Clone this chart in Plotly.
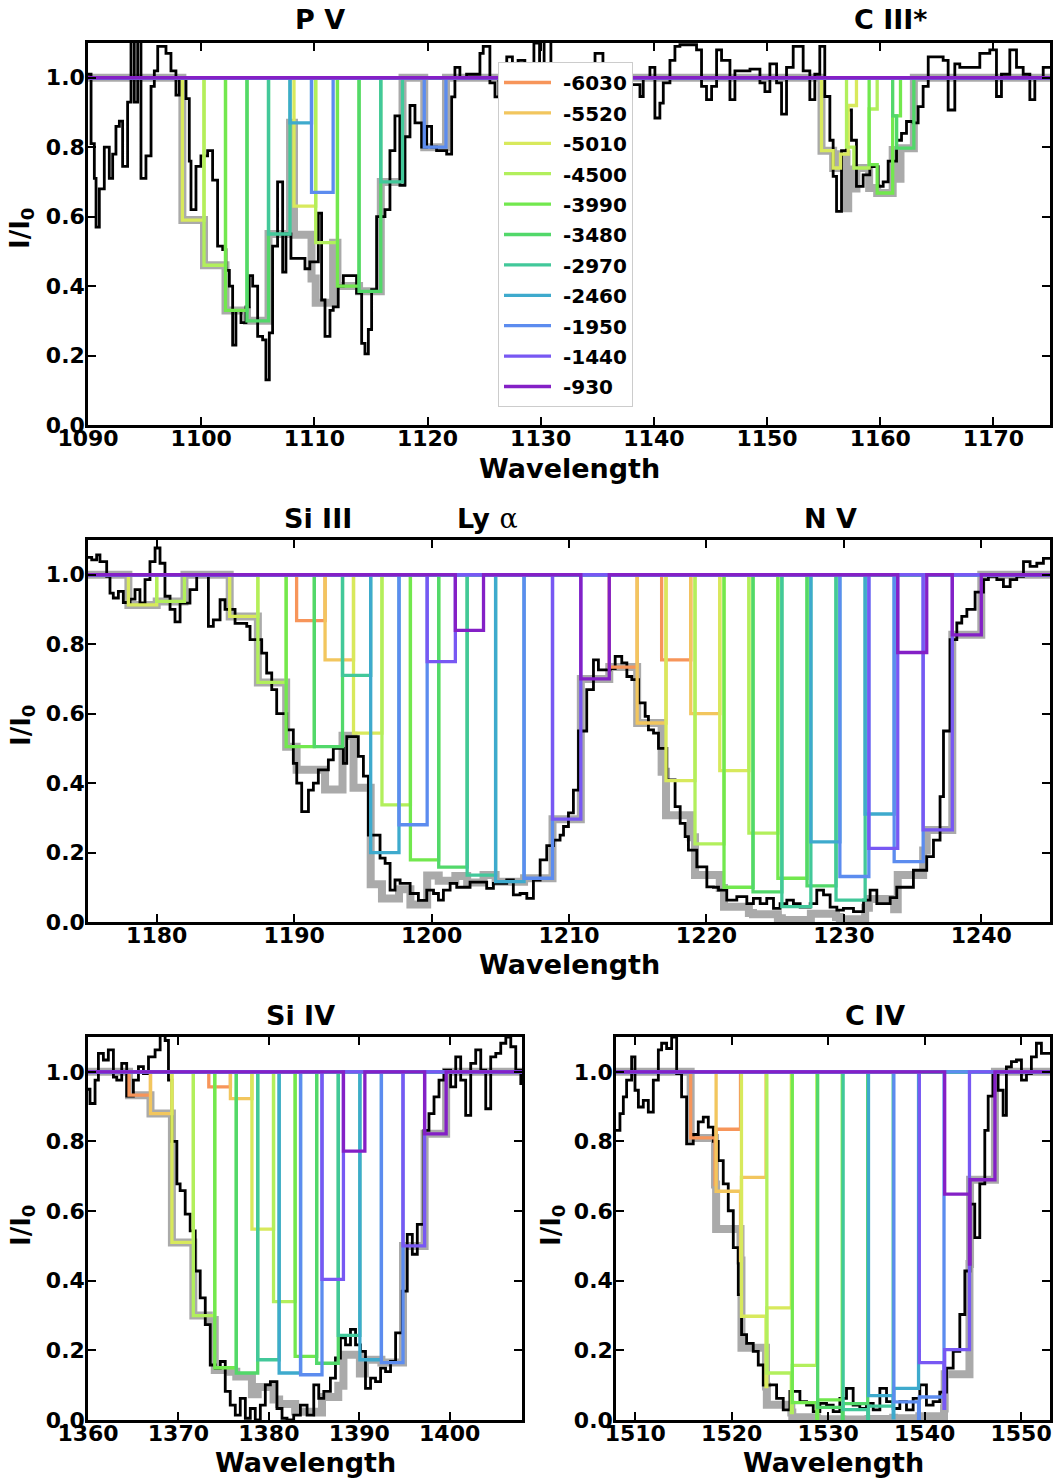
import plotly.graph_objects as go

# ---------------- data ----------------
VELOCITIES = [-6030, -5520, -5010, -4500, -3990, -3480, -2970, -2460, -1950, -1440, -930]
COMP_COLORS = ['#f7955a', '#f2c65e', '#d8e95c', '#b2ef5c', '#72e84e', '#52d86a',
               '#42c89a', '#3eaacd', '#5c8cef', '#7858f3', '#8420c6']

# P V doublet: bin edges of each velocity component and its transmission
PV1_EDGES = [1094.54, 1096.44, 1098.34, 1100.25, 1102.15, 1104.05, 1105.95, 1107.85, 1109.75, 1111.66, 1113.56, 1115.46]
PV1_DEPTH = [1, 1, 0.59, 0.46, 0.33, 0.30, 0.55, 0.87, 0.67, 1, 1]
PV2_EDGES = [1104.36, 1106.28, 1108.20, 1110.12, 1112.04, 1113.95, 1115.87, 1117.79, 1119.71, 1121.63, 1123.55, 1125.47]
PV2_DEPTH = [1, 1, 0.63, 0.525, 0.40, 0.385, 0.70, 1, 0.80, 1, 1]

# C III* multiplet: step profiles of the components that show it
CIII_5010_EDGES = [1154.81, 1155.84, 1156.49, 1157.17, 1157.90]
CIII_5010_LEVELS = [0.79, 0.74, 0.78, 0.92]
CIII_4500_EDGES = [1157.02, 1157.67, 1159.02, 1159.73]
CIII_4500_LEVELS = [0.80, 0.74, 0.91]
CIII_3990_EDGES = [1159.02, 1159.73, 1161.10, 1161.79]
CIII_3990_LEVELS = [0.75, 0.668, 0.89]
CIII_3480_EDGES = [1161.10, 1161.45, 1162.97]
CIII_3480_LEVELS = [0.89, 0.797]

# middle panel: Si III, Ly alpha, N V doublet, and a weak feature near 1178-1182
X1199_EDGES = [1177.94, 1180.00, 1182.02]
X1199_LEVELS = [0.913, 0.923]
SI3_EDGES = [1181.21, 1183.26, 1185.31, 1187.36, 1189.42, 1191.47, 1193.52, 1195.57, 1197.63, 1199.68, 1201.73, 1203.78]
SI3_DEPTH = [1, 1, 0.88, 0.69, 0.505, 0.505, 0.71, 0.20, 0.28, 0.75, 0.84]
LYA_EDGES = [1190.18, 1192.25, 1194.32, 1196.39, 1198.46, 1200.52, 1202.59, 1204.66, 1206.73, 1208.80, 1210.86, 1212.93]
LYA_DEPTH = [0.868, 0.755, 0.544, 0.337, 0.179, 0.158, 0.135, 0.116, 0.126, 0.296, 0.70]
NV1_EDGES = [1212.93, 1214.96, 1217.06, 1219.17, 1221.28, 1223.39, 1225.49, 1227.60, 1229.71, 1231.82, 1233.92, 1236.03]
NV1_DEPTH = [0.734, 0.573, 0.407, 0.225, 0.10, 0.087, 0.044, 0.231, 0.131, 0.212, 0.776]
NV2_EDGES = [1216.74, 1218.86, 1220.97, 1223.09, 1225.20, 1227.32, 1229.43, 1231.55, 1233.66, 1235.77, 1237.89, 1240.00]
NV2_DEPTH = [0.755, 0.60, 0.436, 0.256, 0.126, 0.104, 0.063, 0.311, 0.174, 0.265, 0.827]

# Si IV doublet
SI4A_EDGES = [1364.54, 1366.91, 1369.28, 1371.65, 1374.02, 1376.40, 1378.77, 1381.14, 1383.51, 1385.88, 1388.25, 1390.62]
SI4A_DEPTH = [0.933, 0.88, 0.51, 0.30, 0.15, 0.135, 0.173, 0.135, 0.13, 0.404, 0.772]
SI4B_EDGES = [1373.36, 1375.75, 1378.13, 1380.52, 1382.91, 1385.29, 1387.68, 1390.07, 1392.45, 1394.84, 1397.23, 1399.61]
SI4B_DEPTH = [0.957, 0.923, 0.548, 0.34, 0.183, 0.163, 0.243, 0.173, 0.165, 0.50, 0.822]

# C IV doublet
C4A_EDGES = [1515.74, 1518.38, 1521.01, 1523.64, 1526.28, 1528.91, 1531.55, 1534.18, 1536.81, 1539.45, 1542.08, 1544.71]
C4A_DEPTH = [0.81, 0.657, 0.298, 0.135, 0.05, 0.036, 0.03, 0.07, 0.052, 0.165, 0.649]
C4B_EDGES = [1518.27, 1520.91, 1523.55, 1526.18, 1528.82, 1531.46, 1534.10, 1536.74, 1539.37, 1542.01, 1544.65, 1547.29]
C4B_DEPTH = [0.835, 0.697, 0.322, 0.157, 0.058, 0.047, 0.04, 0.091, 0.066, 0.202, 0.69]

# observed normalised spectra (bin start wavelength, flux)
TOP_WAVE = [1090.0, 1090.27, 1090.56, 1090.71, 1091.0, 1091.44, 1091.88, 1092.18, 1092.47, 1092.77, 1093.06, 1093.5,
            1093.8, 1094.09, 1094.39, 1094.68, 1095.12, 1095.57, 1095.86, 1096.16, 1096.89, 1097.33, 1097.77, 1098.07,
            1098.66, 1098.95, 1099.1, 1099.54, 1099.98, 1100.57, 1101.01, 1101.45, 1101.9, 1102.19, 1102.49, 1102.78,
            1103.07, 1103.52, 1103.96, 1104.25, 1104.55, 1104.99, 1105.43, 1105.72, 1106.02, 1106.31, 1106.75, 1107.2,
            1107.49, 1107.93, 1108.73, 1109.17, 1109.6, 1110.35, 1110.64, 1110.94, 1111.38, 1111.67, 1112.11, 1112.56,
            1113.73, 1114.18, 1114.47, 1114.77, 1115.06, 1115.5, 1116.24, 1116.68, 1117.12, 1117.56, 1118.0, 1118.45,
            1118.89, 1119.48, 1119.92, 1120.36, 1120.8, 1121.69, 1122.13, 1122.42, 1122.86, 1123.45, 1124.63, 1124.92,
            1125.51, 1125.96, 1126.3, 1127.0, 1127.5, 1128.0, 1128.6, 1129.4, 1129.9, 1130.3, 1130.9, 1131.6, 1132.5,
            1133.3, 1134.0, 1134.8, 1135.5, 1136.4, 1137.2, 1138.0, 1138.77, 1139.06, 1139.65, 1140.09, 1140.53, 1140.83,
            1141.42, 1141.86, 1142.3, 1143.77, 1144.21, 1144.65, 1145.1, 1145.54, 1145.98, 1146.72, 1147.16, 1148.49,
            1149.37, 1149.81, 1150.25, 1150.84, 1151.28, 1151.72, 1152.31, 1153.19, 1153.78, 1154.22, 1154.66, 1155.1,
            1155.55, 1155.84, 1156.14, 1156.58, 1157.02, 1157.46, 1157.9, 1158.49, 1159.08, 1159.82, 1160.26, 1160.7,
            1161.44, 1161.88, 1162.32, 1162.91, 1163.35, 1163.79, 1164.24, 1165.56, 1166.0, 1166.59, 1167.03, 1168.8,
            1169.68, 1170.27, 1170.71, 1171.45, 1172.04, 1172.63, 1173.22, 1173.66, 1174.4, 1175.0]
TOP_FLUX = [1.01, 0.81, 0.71, 0.57, 0.68, 0.80, 0.71, 0.78, 0.86, 0.875, 0.745, 0.93,
            1.15, 0.93, 1.15, 0.71, 0.775, 0.975, 1.02, 1.09, 1.07, 1.02, 0.95, 1.0,
            0.94, 0.76, 0.62, 0.745, 0.775, 0.79, 0.705, 0.515, 0.505, 0.445, 0.40, 0.23,
            0.33, 0.295, 0.34, 0.43, 0.40, 0.255, 0.245, 0.13, 0.265, 0.515, 0.70, 0.44,
            0.55, 0.48, 0.48, 0.45, 0.47, 0.61, 0.36, 0.255, 0.33, 0.34, 0.40, 0.43,
            0.38, 0.235, 0.205, 0.275, 0.39, 0.60, 0.62, 0.79, 0.89, 0.69, 0.83, 0.92,
            0.87, 0.80, 0.86, 0.80, 0.79, 0.78, 0.945, 1.03, 1.0, 1.01, 1.07, 1.09,
            0.985, 0.945, 1.0, 1.06, 0.98, 1.05, 0.99, 1.1, 1.02, 1.12, 0.97, 1.0, 0.96,
            1.02, 0.98, 1.07, 1.0, 0.95, 1.03, 0.98, 0.946, 1.0, 1.03, 0.884, 0.927, 0.985,
            1.05, 1.09, 1.095, 1.08, 0.975, 0.937, 0.975, 1.08, 1.05, 0.937, 1.02, 1.025,
            0.985, 0.96, 1.04, 0.985, 0.895, 1.03, 1.09, 1.02, 0.937, 1.01, 1.09, 0.946,
            0.82, 0.716, 0.615, 0.79, 0.907, 0.82, 0.687, 0.72, 0.744, 0.687, 0.70, 0.76,
            0.82, 0.84, 0.874, 0.87, 0.917, 0.975, 1.06, 1.05, 0.907, 1.04, 1.03, 1.07,
            1.08, 0.946, 1.01, 1.08, 1.03, 1.01, 0.937, 1.0, 1.03, 1.03]

MID_WAVE = [1175.0, 1175.27, 1175.63, 1175.87, 1176.36, 1176.6, 1176.84, 1177.21, 1177.57, 1178.06, 1178.42, 1178.78,
            1179.15, 1179.51, 1179.88, 1180.24, 1180.6, 1180.97, 1181.33, 1181.7, 1182.42, 1182.91, 1183.76, 1184.12,
            1184.61, 1184.97, 1185.7, 1186.55, 1186.79, 1187.64, 1188.0, 1188.37, 1188.73, 1189.46, 1189.94, 1190.19,
            1190.55, 1191.04, 1191.4, 1191.76, 1192.49, 1192.85, 1193.58, 1193.83, 1194.67, 1195.04, 1195.4, 1196.25,
            1196.62, 1196.98, 1197.34, 1197.71, 1198.44, 1199.04, 1199.65, 1200.14, 1200.5, 1200.86, 1201.35, 1201.83,
            1202.8, 1204.01, 1204.5, 1205.47, 1205.95, 1206.44, 1206.93, 1207.41, 1207.9, 1208.38, 1208.87, 1209.35,
            1209.6, 1209.96, 1210.32, 1210.69, 1211.29, 1211.78, 1212.14, 1212.99, 1213.36, 1213.84, 1214.21, 1214.57,
            1215.06, 1215.54, 1215.78, 1216.15, 1216.51, 1217.12, 1217.72, 1218.09, 1218.45, 1218.69, 1219.3, 1220.03,
            1220.51, 1220.88, 1221.48, 1222.21, 1222.94, 1223.42, 1223.91, 1224.39, 1224.88, 1225.36, 1225.85, 1226.33,
            1226.82, 1227.55, 1228.03, 1228.52, 1229.0, 1229.49, 1229.97, 1230.7, 1231.43, 1231.91, 1232.4, 1233.37,
            1233.85, 1235.06, 1236.03, 1236.52, 1237.0, 1237.25, 1237.73, 1238.22, 1238.58, 1238.95, 1239.55, 1240.16,
            1240.52, 1241.13, 1241.61, 1242.1, 1242.58, 1243.07, 1243.55, 1244.04, 1244.52, 1245.0]
MID_FLUX = [1.05, 1.043, 1.057, 1.038, 0.995, 0.947, 0.933, 0.952, 0.92, 0.93, 0.957, 0.918,
            0.986, 1.038, 1.077, 1.033, 0.938, 0.90, 0.864, 0.918, 0.957, 1.0, 0.851, 0.87,
            0.928, 0.90, 0.86, 0.851, 0.813, 0.774, 0.717, 0.669, 0.60, 0.553, 0.457, 0.40,
            0.318, 0.38, 0.40, 0.438, 0.467, 0.50, 0.457, 0.534, 0.477, 0.42, 0.25, 0.184,
            0.169, 0.092, 0.121, 0.111, 0.082, 0.062, 0.092, 0.082, 0.063, 0.092, 0.111, 0.10,
            0.115, 0.097, 0.111, 0.121, 0.078, 0.082, 0.068, 0.121, 0.179, 0.22, 0.236, 0.25,
            0.275, 0.314, 0.38, 0.55, 0.669, 0.755, 0.726, 0.73, 0.765, 0.746, 0.707, 0.698,
            0.631, 0.592, 0.553, 0.544, 0.50, 0.409, 0.332, 0.284, 0.246, 0.207, 0.159, 0.101,
            0.10, 0.092, 0.063, 0.073, 0.053, 0.068, 0.053, 0.068, 0.039, 0.053, 0.063, 0.053,
            0.043, 0.053, 0.092, 0.078, 0.043, 0.034, 0.039, 0.03, 0.063, 0.092, 0.053, 0.07,
            0.10, 0.149, 0.188, 0.236, 0.361, 0.55, 0.813, 0.861, 0.88, 0.90, 0.95, 0.986,
            0.995, 0.986, 0.966, 0.986, 0.995, 1.038, 1.024, 1.033, 1.047, 1.047]

SI4_WAVE = [1360.0, 1360.22, 1360.78, 1361.15, 1361.7, 1362.25, 1362.81, 1363.18, 1363.73, 1364.28, 1365.02, 1365.58,
            1366.13, 1366.69, 1367.42, 1367.98, 1368.53, 1368.9, 1369.27, 1369.83, 1370.19, 1370.75, 1371.3, 1371.86,
            1372.41, 1372.97, 1373.52, 1374.07, 1374.63, 1375.18, 1375.73, 1376.29, 1376.84, 1377.4, 1377.95, 1378.5,
            1379.06, 1379.61, 1380.17, 1380.9, 1381.46, 1382.01, 1382.75, 1383.49, 1384.23, 1384.97, 1385.52, 1386.08,
            1386.81, 1387.37, 1387.92, 1388.48, 1389.03, 1389.59, 1390.14, 1390.69, 1391.25, 1391.8, 1392.36, 1392.91,
            1393.46, 1394.02, 1394.76, 1395.31, 1395.87, 1396.42, 1397.16, 1397.71, 1398.27, 1398.82, 1399.38, 1400.11,
            1400.67, 1401.22, 1401.77, 1402.33, 1402.88, 1403.44, 1403.99, 1404.54, 1405.1, 1405.65, 1406.21, 1406.76,
            1407.31, 1407.87, 1408.0]
SI4_FLUX = [0.95, 0.909, 0.976, 1.053, 1.034, 1.063, 0.985, 0.976, 1.024, 0.93, 0.976, 1.015,
            0.995, 1.043, 1.063, 1.12, 1.09, 0.976, 0.80, 0.678, 0.659, 0.591, 0.543, 0.428,
            0.351, 0.274, 0.158, 0.149, 0.168, 0.082, 0.043, 0.014, 0.062, 0.005, 0.033, 0.0,
            0.043, 0.101, 0.11, 0.033, 0.005, 0.0, 0.014, 0.043, 0.014, 0.101, 0.062, 0.082,
            0.12, 0.178, 0.236, 0.216, 0.26, 0.216, 0.197, 0.091, 0.12, 0.11, 0.149, 0.139,
            0.168, 0.25, 0.37, 0.533, 0.476, 0.562, 0.832, 0.88, 0.928, 0.976, 1.005, 0.957,
            1.043, 0.976, 0.875, 1.024, 1.063, 1.005, 0.894, 1.043, 1.053, 1.082, 1.1, 1.072,
            1.005, 0.966, 0.966]

C4_WAVE = [1508.0, 1508.41, 1508.76, 1509.1, 1509.62, 1509.97, 1510.32, 1510.83, 1511.35, 1511.87, 1512.39, 1512.73,
           1513.25, 1513.77, 1514.29, 1514.8, 1515.32, 1516.01, 1516.53, 1517.05, 1517.57, 1518.09, 1518.6, 1519.12,
           1519.64, 1520.16, 1520.68, 1521.02, 1521.54, 1522.23, 1522.75, 1523.27, 1523.96, 1524.65, 1525.34, 1526.03,
           1527.07, 1527.76, 1528.45, 1529.14, 1529.83, 1530.52, 1531.21, 1531.9, 1532.59, 1533.28, 1533.97, 1534.67,
           1535.36, 1536.05, 1536.74, 1537.43, 1538.12, 1538.81, 1539.5, 1540.19, 1540.88, 1541.57, 1542.27, 1542.96,
           1543.65, 1544.17, 1544.69, 1545.2, 1545.72, 1546.24, 1546.59, 1547.1, 1547.62, 1548.14, 1548.48, 1549.0,
           1549.52, 1550.04, 1550.56, 1551.07, 1551.59, 1552.11, 1553.0]
C4_FLUX = [0.832, 0.88, 0.928, 0.976, 1.043, 0.947, 0.899, 0.918, 0.884, 0.976, 1.063, 1.082,
           1.067, 1.1, 0.995, 0.928, 0.793, 0.82, 0.856, 0.87, 0.841, 0.80, 0.745, 0.678,
           0.601, 0.495, 0.36, 0.245, 0.22, 0.197, 0.158, 0.10, 0.101, 0.062, 0.029, 0.082,
           0.053, 0.043, 0.024, 0.048, 0.043, 0.024, 0.062, 0.091, 0.043, 0.033, 0.048, 0.029,
           0.091, 0.053, 0.033, 0.053, 0.029, 0.062, 0.101, 0.043, 0.053, 0.08, 0.149, 0.197,
           0.303, 0.428, 0.62, 0.524, 0.678, 0.832, 0.93, 1.0, 0.947, 0.875, 1.014, 1.029,
           1.034, 0.976, 0.995, 1.043, 1.082, 1.053, 1.053]

TICK_Y = [0.0, 0.2, 0.4, 0.6, 0.8, 1.0]


# ---------------- helpers ----------------
def add_line(dips, edges, depths):
    for i, d in enumerate(depths):
        if d < 1:
            dips.setdefault(i, []).append((edges[i], edges[i + 1], d))


def add_steps(dips, comp, edges, levels):
    for j, d in enumerate(levels):
        dips.setdefault(comp, []).append((edges[j], edges[j + 1], d))


def step_profile(boxes, x0, x1):
    edges = sorted({x0, x1} | {b[0] for b in boxes} | {b[1] for b in boxes})
    levels = []
    for a, b in zip(edges[:-1], edges[1:]):
        m = 0.5 * (a + b)
        v = 1.0
        for l, r, d in boxes:
            if l <= m < r:
                v *= d
        levels.append(v)
    return edges, levels + [levels[-1]]


top_dips = {}
add_line(top_dips, PV1_EDGES, PV1_DEPTH)
add_line(top_dips, PV2_EDGES, PV2_DEPTH)
add_steps(top_dips, 2, CIII_5010_EDGES, CIII_5010_LEVELS)
add_steps(top_dips, 3, CIII_4500_EDGES, CIII_4500_LEVELS)
add_steps(top_dips, 4, CIII_3990_EDGES, CIII_3990_LEVELS)
add_steps(top_dips, 5, CIII_3480_EDGES, CIII_3480_LEVELS)

mid_dips = {}
add_steps(mid_dips, 2, X1199_EDGES[0:2], X1199_LEVELS[0:1])
add_steps(mid_dips, 3, X1199_EDGES[1:3], X1199_LEVELS[1:2])
add_line(mid_dips, SI3_EDGES, SI3_DEPTH)
add_line(mid_dips, LYA_EDGES, LYA_DEPTH)
add_line(mid_dips, NV1_EDGES, NV1_DEPTH)
add_line(mid_dips, NV2_EDGES, NV2_DEPTH)

si4_dips = {}
add_line(si4_dips, SI4A_EDGES, SI4A_DEPTH)
add_line(si4_dips, SI4B_EDGES, SI4B_DEPTH)

c4_dips = {}
add_line(c4_dips, C4A_EDGES, C4A_DEPTH)
add_line(c4_dips, C4B_EDGES, C4B_DEPTH)

PANELS = [
    ('x', 'y', [1090, 1175], TOP_WAVE, TOP_FLUX, top_dips, True),
    ('x2', 'y2', [1175, 1245], MID_WAVE, MID_FLUX, mid_dips, False),
    ('x3', 'y3', [1360, 1408], SI4_WAVE, SI4_FLUX, si4_dips, False),
    ('x4', 'y4', [1508, 1553], C4_WAVE, C4_FLUX, c4_dips, False),
]

fig = go.Figure()
for xa, ya, xr, wave, flux, dips, legend in PANELS:
    allboxes = [b for k in dips for b in dips[k]]
    gx, gy = step_profile(allboxes, xr[0], xr[1])
    fig.add_trace(go.Scatter(x=gx, y=gy, mode='lines', line=dict(color='#aaaaaa', width=8, shape='hv'),
                             xaxis=xa, yaxis=ya, showlegend=False, hoverinfo='skip'))
    fig.add_trace(go.Scatter(x=wave + [xr[1]], y=flux + [flux[-1]], mode='lines',
                             line=dict(color='black', width=2.8, shape='hv'),
                             xaxis=xa, yaxis=ya, showlegend=False, hoverinfo='skip'))
    for i, v in enumerate(VELOCITIES):
        cx, cy = step_profile(dips.get(i, []), xr[0], xr[1])
        fig.add_trace(go.Scatter(x=cx, y=cy, mode='lines', name='\u00a0' + str(v),
                                 line=dict(color=COMP_COLORS[i], width=3.3, shape='hv'),
                                 xaxis=xa, yaxis=ya, showlegend=legend,
                                 legendgroup='g%d' % i, hoverinfo='skip'))

FONT = 'DejaVu Sans'
axis_common = dict(showline=True, linewidth=2.5, linecolor='black', mirror='allticks',
                   ticks='inside', ticklen=8, tickwidth=2, tickcolor='black',
                   showgrid=False, zeroline=False, automargin=False,
                   tickfont=dict(family=FONT, size=22, color='black', weight='bold'))

XL, XR = 88 / 1056, 1050 / 1056
XBL = 522 / 1056
XBR0 = 616 / 1056
DOM_TOP = [1 - 425 / 1480, 1 - 43 / 1480]
DOM_MID = [1 - 922 / 1480, 1 - 540 / 1480]
DOM_BOT = [1 - 1420 / 1480, 1 - 1037 / 1480]

layout = dict(width=1056, height=1480, margin=dict(l=0, r=0, t=0, b=0, autoexpand=False),
              paper_bgcolor='white', plot_bgcolor='white',
              font=dict(family=FONT, color='black'))
xdoms = [[XL, XR], [XL, XR], [XL, XBL], [XBR0, XR]]
ydoms = [DOM_TOP, DOM_MID, DOM_BOT, DOM_BOT]
for k, (xa, ya, xr, *_rest) in enumerate(PANELS):
    xn = 'xaxis' if k == 0 else 'xaxis%d' % (k + 1)
    yn = 'yaxis' if k == 0 else 'yaxis%d' % (k + 1)
    layout[xn] = dict(axis_common, domain=xdoms[k], range=xr, dtick=10, tick0=0, anchor=ya,
                      ticklabelstandoff=-8)
    layout[yn] = dict(axis_common, domain=ydoms[k], range=[0, 1.1], tickvals=TICK_Y,
                      ticktext=['%.1f' % t for t in TICK_Y], anchor=xa, ticklabelstandoff=-4)

layout['legend'] = dict(x=498 / 1056, y=1 - 62 / 1480, xanchor='left', yanchor='top',
                        bgcolor='white', bordercolor='#cccccc', borderwidth=1,
                        font=dict(family=FONT, size=20, color='black', weight='bold'),
                        tracegroupgap=1.4, itemwidth=47, traceorder='grouped')
fig.update_layout(**layout)

ann_font = dict(family=FONT, size=27, color='black', weight='bold')
TITLES = [('P V', 320, 20), ('C III*', 890, 20), ('Si III', 318, 518),
          ("Ly <span style='font-family:DejaVu Serif;font-weight:normal'>α</span>", 487, 518),
          ('N V', 830, 518), ('Si IV', 300, 1015), ('C IV', 875, 1015)]
for txt, px, py in TITLES:
    fig.add_annotation(text=txt, x=px / 1056, y=1 - py / 1480, xref='paper', yref='paper',
                       showarrow=False, font=ann_font, xanchor='center', yanchor='middle')

XLABELS = [(569, 468), (569, 965), (305, 1462), (833, 1462)]
for px, py in XLABELS:
    fig.add_annotation(text='Wavelength', x=px / 1056, y=1 - py / 1480, xref='paper', yref='paper',
                       showarrow=False, font=ann_font, xanchor='center', yanchor='middle')
YLABELS = [(22, 228), (22, 725), (22, 1225), (552, 1225)]
for px, py in YLABELS:
    fig.add_annotation(text='I/I<sub>0</sub>', x=px / 1056, y=1 - py / 1480, xref='paper', yref='paper',
                       showarrow=False, font=dict(family=FONT, size=26, color='black', weight='bold'),
                       textangle=-90, xanchor='center', yanchor='middle')

fig.write_html('out.html')
